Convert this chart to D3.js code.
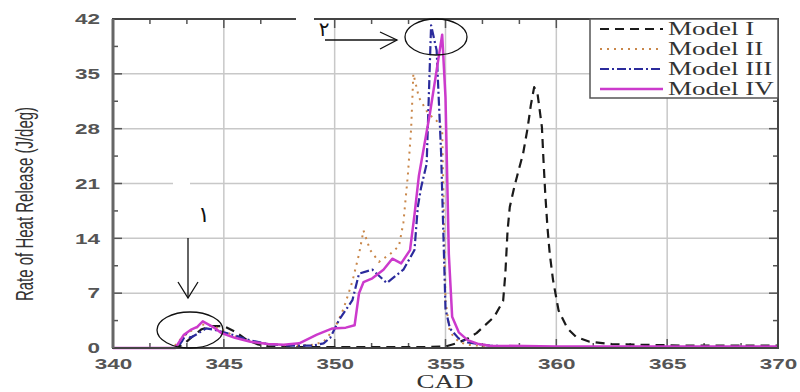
<!DOCTYPE html>
<html>
<head>
<meta charset="utf-8">
<script src="https://cdn.jsdelivr.net/npm/d3@7"></script>
<style>
  body { margin: 0; background: #fff; }
  svg { display: block; }
</style>
</head>
<body>
<script>
// Values (CAD in degrees, rate of heat release in J/deg)
const model1Cad = [340, 342.8, 343.2, 343.6, 344, 344.5, 345, 345.5, 346, 346.5, 347, 348, 350, 352, 354, 355, 355.5, 356, 356.4, 357.2, 357.6, 357.7, 357.8, 357.9, 358.1, 358.3, 358.5, 358.7, 358.85, 359.0, 359.15, 359.35, 359.42, 359.5, 359.6, 359.7, 359.85, 360.1, 360.5, 360.9, 361.5, 362.5, 364, 366, 368, 370];
const model1Rhr = [0, 0, 0.5, 1.5, 2.4, 2.8, 2.8, 2.1, 1.1, 0.5, 0.2, 0.1, 0.1, 0.1, 0.1, 0.2, 0.6, 1.2, 1.9, 4, 6, 9.5, 15, 18, 20.5, 22.7, 24.8, 28, 31, 33.3, 32.5, 28.2, 24, 19.7, 15.4, 12.1, 8.7, 4.8, 2.5, 1.4, 0.8, 0.5, 0.4, 0.3, 0.3, 0.3];

const model2Cad = [340, 342.7, 343, 343.3, 343.6, 344, 344.5, 345, 345.5, 346, 347, 348, 349, 349.5, 350, 350.4, 350.8, 351.1, 351.3, 351.6, 352, 352.5, 352.9, 353.1, 353.3, 353.45, 353.55, 353.8, 354.2, 354.6, 354.85, 355.0, 355.2, 355.6, 356, 357, 360, 370];
const model2Rhr = [0, 0, 1, 1.8, 2.3, 3.0, 2.8, 2.2, 1.5, 1.0, 0.5, 0.3, 0.4, 0.8, 2.5, 5, 8.5, 12, 15, 12.5, 11, 12, 13, 16, 22, 28, 35, 32, 30, 29, 28, 6, 2, 0.8, 0.4, 0.2, 0.1, 0.1];

const model3Cad = [340, 342.9, 343.1, 343.3, 343.5, 343.8, 344.2, 344.6, 345, 345.5, 346, 347, 348, 349, 349.5, 349.8, 350.2, 350.8, 351.1, 351.7, 352.35, 353.1, 353.6, 353.75, 353.9, 354.05, 354.15, 354.35, 354.6, 354.8, 355.0, 355.2, 355.6, 356, 357, 358, 360, 370];
const model3Rhr = [0, 0, 0.8, 1.8, 1.3, 1.8, 2.5, 2.3, 2.0, 1.6, 1.1, 0.5, 0.3, 0.3, 0.6, 1.3, 3.6, 6.1, 9.5, 10, 8.3, 10, 12.5, 18, 20.5, 22.3, 23.5, 41.2, 38, 25, 5, 2.5, 1.2, 0.7, 0.3, 0.2, 0.1, 0.1];

const model4Cad = [340, 342.8, 342.9, 343.2, 343.5, 343.8, 344.05, 344.5, 344.9, 345.5, 346.2, 347, 347.7, 348.4, 349.2, 349.9, 350.5, 350.9, 351.1, 351.3, 351.7, 352.2, 352.6, 353.0, 353.4, 353.6, 353.8, 354.3, 354.85, 355.0, 355.15, 355.3, 355.6, 356, 356.5, 357, 360, 370];
const model4Rhr = [0, 0, 0.4, 1.7, 2.3, 2.7, 3.4, 2.7, 1.9, 1.3, 0.8, 0.5, 0.4, 0.6, 1.7, 2.5, 2.6, 2.9, 7, 8.4, 8.9, 10, 11.4, 10.8, 12.5, 17, 22, 30, 40, 32, 12, 4, 2, 1, 0.5, 0.3, 0.2, 0.2];

const seriesNames = ["Model I", "Model II", "Model III", "Model IV"];
const xTicks = [340, 345, 350, 355, 360, 365, 370];
const yTicks = [0, 7, 14, 21, 28, 35, 42];

const series = [
  { name: seriesNames[0], cad: model1Cad, rhr: model1Rhr, color: "#1a1a1a", width: 2.2, dash: "9,6" },
  { name: seriesNames[1], cad: model2Cad, rhr: model2Rhr, color: "#c9874a", width: 2, dash: "2,5" },
  { name: seriesNames[2], cad: model3Cad, rhr: model3Rhr, color: "#2b2b9c", width: 2.2, dash: "9,3,2,3" },
  { name: seriesNames[3], cad: model4Cad, rhr: model4Rhr, color: "#cc3acc", width: 2.5, dash: null }
];

// the picture is stretched sideways, so text is too
const STRETCH = 1.5;

const W = 800, H = 392;
const svg = d3.select("body").append("svg")
    .attr("width", W)
    .attr("height", H);

const x = d3.scaleLinear().domain([340, 370]).range([113, 778]);
const y = d3.scaleLinear().domain([0, 42]).range([348, 19]);

// grid
const grid = svg.append("g").attr("stroke", "#c8c8c8").attr("stroke-width", 1.5);
grid.selectAll(".gx")
    .data(xTicks.slice(1, -1))
    .enter().append("line")
        .attr("x1", d => x(d)).attr("x2", d => x(d))
        .attr("y1", y(0)).attr("y2", y(42));
grid.selectAll(".gy")
    .data(yTicks.slice(1, -1))
    .enter().append("line")
        .attr("x1", x(340)).attr("x2", x(370))
        .attr("y1", d => y(d)).attr("y2", d => y(d));

// minor ticks
const xMinor = d3.range(340, 370.01, 5 / 3);
const yMinor = d3.range(0, 42.01, 3.5);

const ticks = svg.append("g").attr("stroke", "#555").attr("stroke-width", 1.5);
yMinor.forEach((v, i) =>
{
  let len = (i % 2 === 0) ? 9 : 5;
  ticks.append("line").attr("x1", x(340)).attr("x2", x(340) + len)
      .attr("y1", y(v)).attr("y2", y(v));
  ticks.append("line").attr("x1", x(370)).attr("x2", x(370) - len)
      .attr("y1", y(v)).attr("y2", y(v));
});
xMinor.forEach((v, i) =>
{
  let len = (i % 3 === 0) ? 9 : 5;
  ticks.append("line").attr("x1", x(v)).attr("x2", x(v))
      .attr("y1", y(0)).attr("y2", y(0) - len);
  ticks.append("line").attr("x1", x(v)).attr("x2", x(v))
      .attr("y1", y(42)).attr("y2", y(42) + len);
});

// curves
const line = d3.line()
    .x(d => x(d[0]))
    .y(d => y(d[1]));

series.forEach(s =>
{
  svg.append("path")
      .datum(s.cad.map((c, i) => [c, s.rhr[i]]))
      .attr("d", line)
      .attr("fill", "none")
      .attr("stroke", s.color)
      .attr("stroke-width", s.width)
      .attr("stroke-dasharray", s.dash)
      .attr("stroke-linejoin", "round");
});

// frame
svg.append("rect")
    .attr("x", x(340)).attr("y", y(42))
    .attr("width", x(370) - x(340)).attr("height", y(0) - y(42))
    .attr("fill", "none")
    .attr("stroke", "#444")
    .attr("stroke-width", 2);
svg.append("line")
    .attr("x1", x(340)).attr("x2", x(340))
    .attr("y1", y(42)).attr("y2", y(0))
    .attr("stroke", "#666").attr("stroke-width", 3);

// axis labels
const xAxis = d3.axisBottom(x).tickValues(xTicks).tickSize(0).tickPadding(10);
const xg = svg.append("g").attr("transform", "translate(0," + y(0) + ")").call(xAxis);
xg.select(".domain").remove();
xg.selectAll("text")
    .attr("font-family", "Liberation Sans, Arial, sans-serif")
    .attr("font-size", 15)
    .attr("font-weight", "bold")
    .attr("fill", "#555")
    .attr("transform", "scale(" + STRETCH + ",1)");

const yAxis = d3.axisLeft(y).tickValues(yTicks).tickSize(0);
const yg = svg.append("g").attr("transform", "translate(" + x(340) + ",0)").call(yAxis);
yg.select(".domain").remove();
yg.selectAll("text")
    .attr("x", -13 / STRETCH)
    .attr("font-family", "Liberation Sans, Arial, sans-serif")
    .attr("font-size", 15)
    .attr("font-weight", "bold")
    .attr("fill", "#555")
    .attr("transform", "scale(" + STRETCH + ",1)");

svg.append("text")
    .attr("transform", "translate(445,388) scale(" + STRETCH + ",1)")
    .attr("text-anchor", "middle")
    .attr("font-family", "Liberation Serif, Times New Roman, serif")
    .attr("font-size", 18)
    .attr("fill", "#333")
    .text("CAD");

svg.append("text")
    .attr("transform", "translate(33,204) rotate(-90) scale(1,1.6)")
    .attr("text-anchor", "middle")
    .attr("font-family", "Liberation Sans, Arial, sans-serif")
    .attr("font-size", 15)
    .attr("fill", "#333")
    .text("Rate of Heat Release (J/deg)");

// legend
const legend = svg.append("g").attr("transform", "translate(590," + y(42) + ")");
legend.append("rect")
    .attr("width", x(370) - 590).attr("height", 79)
    .attr("fill", "#fff")
    .attr("stroke", "#555")
    .attr("stroke-width", 1.5);
const items = legend.selectAll("g.item")
    .data(series)
    .enter().append("g")
        .attr("transform", (d, i) => "translate(0," + (10 + i * 20) + ")");
items.append("line")
    .attr("x1", 10).attr("x2", 73)
    .attr("stroke", d => d.color)
    .attr("stroke-width", d => d.width)
    .attr("stroke-dasharray", d => d.dash);
items.append("text")
    .attr("transform", "translate(78,6) scale(" + STRETCH + ",1)")
    .attr("font-family", "Liberation Serif, Times New Roman, serif")
    .attr("font-size", 18)
    .attr("fill", "#333")
    .text(d => d.name);

// annotations
const note = svg.append("g").attr("fill", "none").attr("stroke", "#111").attr("stroke-width", 1.3);
note.append("ellipse").attr("cx", 190).attr("cy", 330).attr("rx", 33).attr("ry", 18);
note.append("ellipse").attr("cx", 436).attr("cy", 37).attr("rx", 31).attr("ry", 18);

svg.append("rect").attr("x", 296).attr("y", 14).attr("width", 18).attr("height", 10).attr("fill", "#fff");
svg.append("rect").attr("x", 173).attr("y", 180).attr("width", 17).attr("height", 56).attr("fill", "#fff");

note.append("line").attr("x1", 325).attr("x2", 397).attr("y1", 40).attr("y2", 40);
note.append("polyline").attr("points", "380,32 397,40 380,49");
note.append("line").attr("x1", 188).attr("x2", 188).attr("y1", 238).attr("y2", 298);
note.append("polyline").attr("points", "178,282 188,298 198,282");

svg.append("text")
    .attr("x", 324).attr("y", 36)
    .attr("text-anchor", "middle")
    .attr("font-family", "DejaVu Sans, sans-serif")
    .attr("font-size", 20)
    .attr("fill", "#111")
    .text("۲");
svg.append("text")
    .attr("x", 204).attr("y", 222)
    .attr("text-anchor", "middle")
    .attr("font-family", "DejaVu Sans, sans-serif")
    .attr("font-size", 22)
    .attr("fill", "#111")
    .text("١");
</script>
</body>
</html>
